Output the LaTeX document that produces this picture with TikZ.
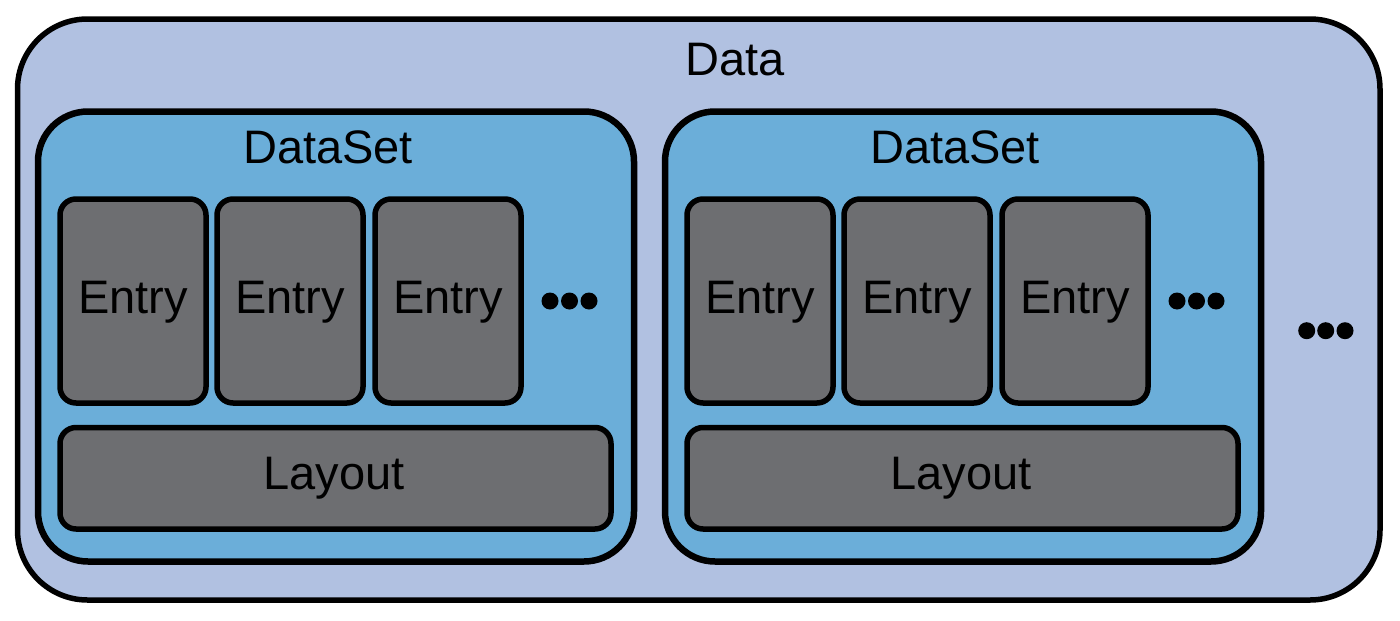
\documentclass[tikz,border=0pt]{standalone}
\usepackage{fontspec}
\setmainfont{Liberation Sans}
\definecolor{outerfill}{RGB}{177,193,225}
\definecolor{dsfill}{RGB}{107,174,217}
\definecolor{entryfill}{RGB}{109,110,113}
\begin{document}
\begin{tikzpicture}[x=1pt,y=-1pt,
  box/.style={rectangle,draw=black,inner sep=0pt,outer sep=0pt},
  outerbox/.style={box,fill=outerfill,line width=5.5pt,rounded corners=70pt},
  dsbox/.style={box,fill=dsfill,line width=6.5pt,rounded corners=50pt},
  entrybox/.style={box,fill=entryfill,line width=5.5pt,rounded corners=16pt,minimum width=146pt,minimum height=204pt},
  layoutbox/.style={box,fill=entryfill,line width=5.5pt,rounded corners=16pt,minimum width=551pt,minimum height=101.5pt},
  lbl/.style={anchor=base,inner sep=0pt,font=\fontsize{47}{51}\selectfont},
  dot/.style={circle,fill=black,inner sep=0pt,minimum size=17pt}]
\useasboundingbox (0,0) rectangle (1400,621);
\node[outerbox,minimum width=1362.5pt,minimum height=581pt] (data) at (698.75,309.5) {};
\node[lbl] (datalbl) at (734.7,75) {Data};
\foreach \i/\dx in {1/0,2/627}{
  \node[dsbox,minimum width=596pt,minimum height=450pt] (ds\i) at (336+\dx,336.5) {};
  \node[lbl] (dslbl\i) at (328+\dx,163) {DataSet};
  \foreach \j/\ex in {1/133,2/290,3/448}{
    \node[entrybox] (e\i\j) at (\ex+\dx,301) {};
    \node[lbl] (elbl\i\j) at (\ex+\dx,313) {Entry};
  }
  \node[layoutbox] (lay\i) at (335.5+\dx,478.25) {};
  \node[lbl] (laylbl\i) at (334+\dx,489.5) {Layout};
  \foreach \k/\cx in {1/550,2/569.5,3/589}{
    \node[dot] (d\i\k) at (\cx+\dx,301) {};
  }
}
\foreach \k/\cx in {1/1306.7,2/1325.7,3/1345}{
  \node[dot] (od\k) at (\cx,330.7) {};
}
\end{tikzpicture}
\end{document}
